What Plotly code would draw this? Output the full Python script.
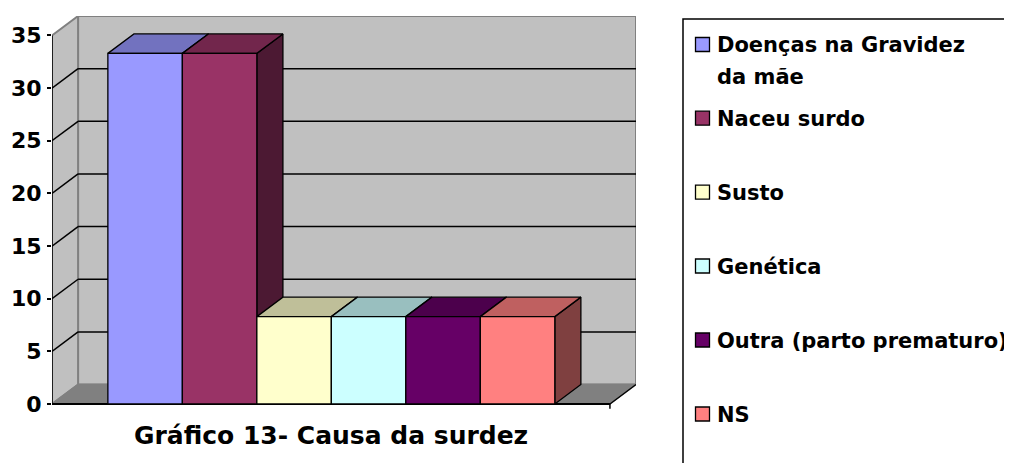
import plotly.graph_objects as go

# ---------------- data ----------------
categorias = ["Doenças na Gravidez<br>da mãe", "Naceu surdo", "Susto", "Genética",
              "Outra (parto prematuro)", "NS"]
valores = [33.3, 33.3, 8.3, 8.3, 8.3, 8.3]
cores = ["#9999FF", "#993366", "#FFFFCC", "#CCFFFF", "#660066", "#FF8080"]
tick_vals = [0, 5, 10, 15, 20, 25, 30, 35]
titulo = "Gráfico 13- Causa da surdez"

# ---------------- layout geometry ----------------
W, H = 1012, 463
OFF = 8                                  # page body margin of the browser
PL, PR, PT, PB = 52, 636, 16, 410        # plot area in target-picture pixels
n = len(valores)
DX, DY = 0.35, 1.85                      # 3-D depth offset (axis units)
YMAX = tick_vals[-1]
x_left = -1.25
x_right = n - 0.5 + 0.74
y_bottom = -(PB - 404) / ((404 - 35) / 35.0)
FONT = "DejaVu Sans"


def shade(hexc, f):
    h = hexc.lstrip("#")
    r, g, b = (int(h[i:i + 2], 16) for i in (0, 2, 4))
    return "#%02X%02X%02X" % (int(r * f), int(g * f), int(b * f))


def poly(xs, ys, fill, line_color, lw=1.3):
    return go.Scatter(x=list(xs) + [xs[0]], y=list(ys) + [ys[0]], mode="lines",
                      fill="toself", fillcolor=fill,
                      line=dict(color=line_color, width=lw),
                      hoverinfo="skip", showlegend=False)


def seg(x0, y0, x1, y1, color, lw=1.3):
    return go.Scatter(x=[x0, x1], y=[y0, y1], mode="lines",
                      line=dict(color=color, width=lw),
                      hoverinfo="skip", showlegend=False)


fig = go.Figure()
WALL = "#C0C0C0"
EDGE = "#808080"

# back wall
fig.add_trace(poly([x_left + DX, x_right + DX, x_right + DX, x_left + DX],
                   [DY, DY, YMAX + DY, YMAX + DY], WALL, EDGE, 2))
# left wall
fig.add_trace(poly([x_left, x_left + DX, x_left + DX, x_left],
                   [0, DY, YMAX + DY, YMAX], WALL, EDGE, 2))
# gridlines
for v in tick_vals[1:-1]:
    fig.add_trace(seg(x_left, v, x_left + DX, v + DY, "black", 1.5))
    fig.add_trace(seg(x_left + DX, v + DY, x_right + DX, v + DY, "black", 1.5))
# floor
fig.add_trace(poly([x_left, x_right, x_right + DX, x_left + DX],
                   [0, 0, DY, DY], "#808080", EDGE, 1.5))
fig.add_trace(seg(x_right, 0, x_right + DX, DY, "black", 1.3))
# front axis edges
fig.add_trace(seg(x_left, 0, x_left, YMAX, "black", 1.5))
fig.add_trace(seg(x_left, 0, x_right, 0, "black", 2))
fig.add_trace(seg(x_right, 0, x_right, y_bottom * 0.8, "black", 1.5))

# bars (left to right so later bars hide earlier side faces)
for i, (v, c) in enumerate(zip(valores, cores)):
    x0, x1 = i - 0.5, i + 0.5
    fig.add_trace(poly([x1, x1 + DX, x1 + DX, x1], [0, DY, v + DY, v],
                       shade(c, 0.5), "black"))
    fig.add_trace(poly([x0, x1, x1 + DX, x0 + DX], [v, v, v + DY, v + DY],
                       shade(c, 0.75), "black"))
    fig.add_trace(poly([x0, x1, x1, x0], [0, 0, v, v], c, "black"))


def pxx(px):
    return (px - PL) / (PR - PL)


def pxy(py):
    return (PB - py) / (PB - PT)


shapes = []
annotations = []
# legend box
shapes.append(dict(type="rect", xref="paper", yref="paper",
                   x0=pxx(683), x1=pxx(1040), y0=pxy(490), y1=pxy(19),
                   line=dict(color="black", width=1.5), fillcolor="rgba(0,0,0,0)"))
leg_y = [44.5, 118.2, 192.1, 266.0, 340.0, 414.0]
for lab, c, yc in zip(categorias, cores, leg_y):
    shapes.append(dict(type="rect", xref="paper", yref="paper",
                       x0=pxx(695.5), x1=pxx(709.5), y0=pxy(yc + 7), y1=pxy(yc - 7),
                       line=dict(color="black", width=1.3), fillcolor=c))
    for k, line in enumerate(lab.split("<br>")):
        annotations.append(dict(text=line, xref="paper", yref="paper",
                                x=pxx(715), y=pxy(yc + 31 * k + 1),
                                xanchor="left", yanchor="middle", showarrow=False,
                                font=dict(family=FONT, size=21, color="black",
                                          weight="bold")))
# chart title under the floor
annotations.append(dict(text=titulo, xref="x", yref="paper",
                        x=(x_left + x_right) / 2, y=pxy(435),
                        xanchor="center", yanchor="middle", showarrow=False,
                        font=dict(family=FONT, size=25, color="black", weight="bold")))

fig.update_layout(
    width=W, height=H,
    margin=dict(l=PL - OFF, r=W - (PR - OFF), t=PT - OFF, b=H - (PB - OFF),
                pad=0, autoexpand=False),
    paper_bgcolor="white", plot_bgcolor="white",
    showlegend=False,
    xaxis=dict(range=[x_left, x_right + DX], visible=False, fixedrange=True,
               automargin=False),
    yaxis=dict(range=[y_bottom, YMAX + DY], showgrid=False, zeroline=False,
               showline=False, tickmode="array", tickvals=tick_vals,
               ticks="outside", ticklen=4, tickwidth=1.5, tickcolor="black",
               ticklabelstandoff=1, automargin=False,
               tickfont=dict(family=FONT, size=22, color="black", weight="bold"),
               fixedrange=True),
    shapes=shapes, annotations=annotations,
)
fig.write_html("out.html")
